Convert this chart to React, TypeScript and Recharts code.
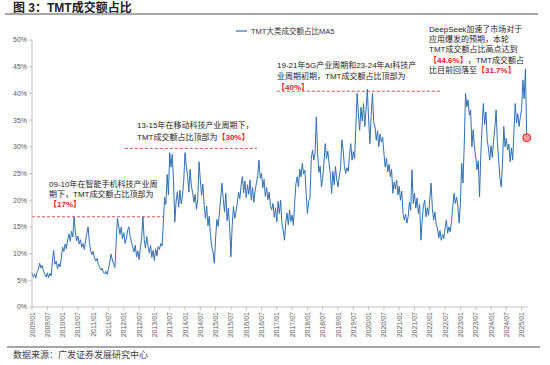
import React from 'react';
import { LineChart, Line, XAxis, YAxis, Legend, ReferenceLine } from 'recharts';

// 半月一个点（从2009/01开始），TMT大类成交额占比MA5，单位%
const v2009 = [6.5, 5.6, 6.2, 5.4, 6.6, 7.0, 8.2, 7.3, 7.8, 6.8, 6.1, 5.6, 6.4, 5.5, 6.3, 5.8, 8.5, 10.6, 8.0, 8.6, 7.2, 8.1, 7.5, 9.2];
const v2010 = [11.2, 10.4, 11.8, 10.9, 12.6, 13.7, 12.3, 14.2, 13.1, 16.9, 14.0, 12.4, 13.3, 11.8, 12.6, 11.2, 11.9, 10.8, 12.4, 13.8, 15.0, 12.1, 10.6, 9.8];
const v2011 = [10.4, 9.2, 8.6, 9.1, 8.0, 7.4, 6.9, 7.3, 6.5, 6.2, 6.7, 6.1, 7.2, 8.4, 9.9, 8.8, 8.1, 7.4, 12.0, 16.6, 15.2, 13.6, 15.0, 12.8];
const v2012 = [13.9, 11.9, 12.8, 14.4, 15.0, 13.2, 12.1, 11.2, 10.3, 11.6, 9.4, 10.5, 8.9, 11.1, 13.0, 16.9, 12.6, 11.0, 13.2, 11.4, 10.1, 11.5, 9.3, 10.6];
const v2013 = [8.7, 10.9, 9.6, 11.3, 10.8, 11.9, 11.4, 15.8, 20.5, 19.2, 24.8, 21.0, 28.9, 26.2, 28.6, 23.5, 15.9, 19.8, 21.6, 18.7, 21.9, 19.3, 20.8, 23.6];
const v2014 = [28.9, 26.4, 24.7, 21.5, 25.8, 22.6, 21.4, 19.6, 21.1, 18.3, 20.2, 27.2, 23.8, 20.9, 23.0, 19.2, 16.6, 18.9, 15.2, 17.0, 13.4, 11.2, 10.3, 8.2];
const v2015 = [12.9, 16.4, 15.1, 17.6, 20.5, 23.2, 20.1, 17.8, 21.3, 16.2, 18.5, 15.0, 9.4, 15.2, 18.8, 16.6, 17.9, 19.4, 21.5, 20.3, 22.8, 24.4, 21.4, 23.6];
const v2016 = [20.5, 22.9, 21.1, 23.8, 20.0, 22.4, 19.6, 21.8, 23.2, 24.6, 27.5, 24.1, 25.0, 22.3, 23.9, 20.7, 22.4, 20.1, 21.5, 19.0, 18.2, 19.4, 16.8, 18.6];
const v2017 = [15.9, 19.8, 17.5, 20.0, 15.6, 14.4, 12.5, 15.8, 17.6, 15.4, 18.2, 16.0, 17.2, 15.3, 19.5, 23.1, 24.4, 22.5, 25.8, 24.4, 26.9, 24.9, 25.6, 21.3];
const v2018 = [17.5, 19.8, 20.4, 27.6, 29.4, 27.5, 28.8, 35.6, 28.8, 25.2, 26.4, 22.5, 24.1, 27.2, 30.6, 27.8, 29.2, 26.9, 24.8, 21.3, 25.4, 22.9, 26.3, 23.8];
const v2019 = [22.5, 24.6, 26.0, 31.3, 29.5, 26.3, 25.0, 26.1, 25.4, 28.4, 30.6, 27.5, 29.1, 27.7, 33.9, 40.0, 36.2, 33.1, 37.4, 34.8, 38.1, 33.8, 37.0, 40.8];
const v2020 = [35.2, 30.6, 35.9, 40.0, 34.6, 33.8, 31.2, 33.0, 30.0, 32.4, 30.9, 31.8, 28.8, 26.2, 27.9, 25.3, 26.7, 24.4, 25.8, 21.3, 23.4, 22.1, 23.8, 21.0];
const v2021 = [22.6, 20.0, 21.7, 17.5, 16.3, 17.4, 15.7, 16.9, 19.6, 18.1, 25.7, 19.4, 21.3, 18.5, 20.4, 17.5, 19.2, 12.5, 16.2, 19.0, 20.0, 16.9, 18.6, 17.2];
const v2022 = [20.3, 23.2, 18.4, 16.3, 17.8, 15.4, 14.8, 12.9, 14.3, 12.5, 13.6, 12.8, 14.9, 16.3, 13.8, 15.0, 14.1, 16.0, 18.8, 21.3, 19.4, 20.6, 18.8, 15.7];
const v2023 = [19.5, 26.9, 23.2, 30.4, 40.0, 37.5, 38.8, 35.9, 36.9, 30.0, 33.2, 30.0, 28.1, 25.7, 27.4, 20.6, 28.6, 33.8, 38.1, 34.2, 36.5, 31.3, 29.6, 27.5];
const v2024 = [30.2, 28.0, 31.2, 33.5, 36.9, 30.8, 27.5, 24.2, 22.5, 26.8, 33.8, 30.0, 31.6, 29.4, 30.5, 27.2, 29.8, 27.5, 33.0, 38.1, 34.4, 36.2, 33.8, 35.6];
const v2025 = [37.1, 42.5, 39.0, 44.6, 31.7];

const tickLabels = [
  '2009/01', '2009/07', '2010/01', '2010/07', '2011/01', '2011/07', '2012/01', '2012/07',
  '2013/01', '2013/07', '2014/01', '2014/07', '2015/01', '2015/07', '2016/01', '2016/07',
  '2017/01', '2017/07', '2018/01', '2018/07', '2019/01', '2019/07', '2020/01', '2020/07',
  '2021/01', '2021/07', '2022/01', '2022/07', '2023/01', '2023/07', '2024/01', '2024/07', '2025/01',
];
const yTicks = [0, 5, 10, 15, 20, 25, 30, 35, 40, 45, 50];

const values = [v2009, v2010, v2011, v2012, v2013, v2014, v2015, v2016, v2017, v2018, v2019, v2020, v2021, v2022, v2023, v2024, v2025].flat();
const data = values.map((v, i) => ({ m: i * 0.5, v }));
const lastIdx = data.length - 1;
const xTicks = tickLabels.map((_, i) => i * 6);

const CJK = '"Liberation Sans", "Noto Sans CJK SC", sans-serif';
const RED = '#e0201c';
const DASH = '#d9534f';

const XTick = (props: any) => {
  const { x, y, payload } = props;
  return (
    <text x={x} y={y} transform={`rotate(-90 ${x} ${y})`} textAnchor="end" dy={2.5} fontSize={7} fill="#595959">
      {tickLabels[Math.round(payload.value / 6)]}
    </text>
  );
};

const EndDot = (p: any) =>
  p.index === lastIdx ? (
    <circle key="end" cx={p.cx} cy={p.cy} r={4} fill="#f29a9a" stroke={RED} strokeWidth={1} />
  ) : (
    <g key={p.index} />
  );

const LegendBox = () => (
  <div style={{ display: 'flex', alignItems: 'center', fontSize: 7.5, color: '#333', whiteSpace: 'nowrap' }}>
    <svg width={12} height={6}>
      <line x1={0} y1={3} x2={11} y2={3} stroke="#2f70b0" strokeWidth={1.2} />
    </svg>
    <span style={{ marginLeft: 3 }}>TMT大类成交额占比MA5</span>
  </div>
);

const Red = ({ t }: { t: string }) => <span style={{ color: RED, fontWeight: 'bold' }}>{t}</span>;

const note: React.CSSProperties = { position: 'absolute', fontSize: 8, color: '#222', whiteSpace: 'nowrap' };

export default function App() {
  return (
    <div style={{ position: 'absolute', left: 0, top: 0, width: 550, height: 365, background: '#fff', fontFamily: CJK }}>
      <div style={{ position: 'absolute', left: 13, top: 0, fontSize: 12, lineHeight: '16px', fontWeight: 'bold', color: '#222' }}>
        图 3：TMT成交额占比
      </div>
      <div style={{ position: 'absolute', left: 5, top: 13, width: 533, height: 2, background: '#a6a6a6' }} />

      <LineChart width={550} height={365} data={data} margin={{ top: 40, right: 22, bottom: 18, left: 4 }}>
        <XAxis
          type="number"
          dataKey="m"
          domain={[0, 194.5]}
          ticks={xTicks}
          interval={0}
          height={40}
          tickSize={3}
          tickMargin={2}
          tick={<XTick />}
          axisLine={{ stroke: '#bfbfbf' }}
          tickLine={{ stroke: '#bfbfbf' }}
        />
        <YAxis
          domain={[0, 50]}
          ticks={yTicks}
          width={28}
          tickSize={3}
          tickMargin={2}
          tickFormatter={(v: number) => `${v}%`}
          tick={{ fontSize: 7, fill: '#595959' }}
          axisLine={{ stroke: '#bfbfbf' }}
          tickLine={{ stroke: '#bfbfbf' }}
        />
        <Legend
          layout="vertical"
          align="center"
          verticalAlign="middle"
          wrapperStyle={{ position: 'absolute', left: 236, top: 25, width: 120 }}
          content={<LegendBox />}
        />
        <ReferenceLine segment={[{ x: 0, y: 16.9 }, { x: 51.5, y: 16.9 }]} stroke={DASH} strokeDasharray="3 2" />
        <ReferenceLine segment={[{ x: 36.4, y: 29.7 }, { x: 88.2, y: 29.7 }]} stroke={DASH} strokeDasharray="3 2" />
        <ReferenceLine segment={[{ x: 96, y: 40.4 }, { x: 160.7, y: 40.4 }]} stroke={DASH} strokeDasharray="3 2" />
        <Line
          type="linear"
          dataKey="v"
          name="TMT大类成交额占比MA5"
          stroke="#2f70b0"
          strokeWidth={1}
          dot={EndDot}
          activeDot={false}
          isAnimationActive={false}
        />
      </LineChart>

      <div style={{ ...note, left: 49, top: 180, lineHeight: '10px' }}>
        <div>09-10年在智能手机科技产业周</div>
        <div>期下，TMT成交额占比顶部为</div>
        <div><Red t="【17%】" /></div>
      </div>
      <div style={{ ...note, left: 137, top: 120, lineHeight: '12px' }}>
        <div>13-15年在移动科技产业周期下，</div>
        <div>TMT成交额占比顶部为<Red t="【30%】" /></div>
      </div>
      <div style={{ ...note, left: 277, top: 60, lineHeight: '11px' }}>
        <div>19-21年5G产业周期和23-24年AI科技产</div>
        <div>业周期初期，TMT成交额占比顶部为</div>
        <div><Red t="【40%】" /></div>
      </div>
      <div style={{ ...note, left: 429, top: 25, lineHeight: '10.2px' }}>
        <div>DeepSeek加速了市场对于</div>
        <div>应用爆发的预期，本轮</div>
        <div>TMT成交额占比高点达到</div>
        <div><Red t="【44.6%】" />，TMT成交额占</div>
        <div>比目前回落至<Red t="【31.7%】" /></div>
      </div>

      <div style={{ position: 'absolute', left: 7, top: 346, width: 533, height: 1.5, background: '#a6a6a6' }} />
      <div style={{ position: 'absolute', left: 13, top: 349, fontSize: 9, lineHeight: '12px', color: '#404040' }}>
        数据来源：广发证券发展研究中心
      </div>
    </div>
  );
}
